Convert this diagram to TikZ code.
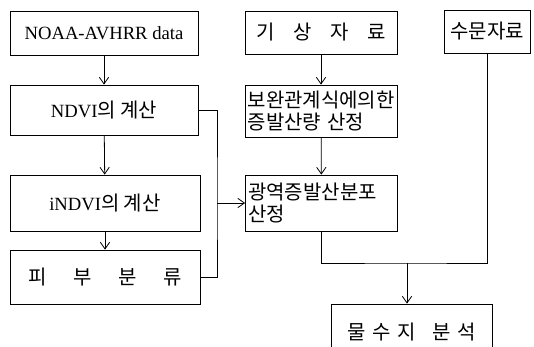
\documentclass[tikz,border=0pt]{standalone}
\usepackage{fontspec}
\setmainfont{Liberation Serif}
\newfontfamily\kr[Scale=1.07]{Noto Sans CJK KR}
\usetikzlibrary{arrows.meta}

\begin{document}
\begin{tikzpicture}[x=0.75pt, y=-0.75pt, >={Straight Barb[length=5pt,width=7pt]}, line width=0.6pt,
                every node/.style={
                        rectangle,
                        draw,
                        line width=0.6pt,
                        text centered,
                        inner sep=2pt,
                        font=\fontsize{14pt}{17pt}\selectfont},
                leftbox/.style={text width=110pt, align=left}]

                \useasboundingbox (0,0) rectangle (534,346);

                \node[minimum width=141pt, minimum height=33pt] (A) at (104, 33) {NOAA-AVHRR data};

                \node[minimum width=141pt, minimum height=37.5pt] (B) at (104, 110) {NDVI{\kr 의 계산}};

                \node[minimum width=142.5pt, minimum height=42pt] (C) at (105, 203) {iNDVI{\kr 의 계산}};

                \node[minimum width=142.5pt, minimum height=40.5pt] (D) at (105, 277) {\makebox[115pt][s]{\kr 피 부 분 류}};

                \node[minimum width=114pt, minimum height=32.25pt] (E) at (321, 32.5) {\makebox[97pt][s]{\kr 기 상 자 료}};

                \node[leftbox, minimum width=114pt, minimum height=39pt] (F) at (321, 111) {\kr 보완관계식에의한\\증발산량 산정};

                \node[leftbox, minimum width=113.25pt, minimum height=42pt] (G) at (321.5, 203) {\kr 광역증발산분포\\산정};

                \node[minimum width=64.5pt, minimum height=32.25pt] (H) at (487, 31.5) {\kr 수문자료};

                \node[minimum width=120.75pt, minimum height=42pt] (I) at (411.5, 332) {\kr 물\hspace{5pt}수\hspace{5pt}지\hspace{12pt}분\hspace{5pt}석};

                \coordinate (bus) at (217, 203);
                \coordinate (m) at (407, 263);

                \draw[->] (A) -- (B);
                \draw[->] (B) -- (C);
                \draw[->] (C) -- (D);
                \draw[->] (E) -- (F);
                \draw[->] (F) -- (G);
                \draw (B.east) -| (bus) |- (D.east);
                \draw[->] (bus) -- (G.west);
                \draw (G.south) |- (m) -| (H.south);
                \draw[->] (m) -- (m |- I.north);
            \end{tikzpicture}
\end{document}
